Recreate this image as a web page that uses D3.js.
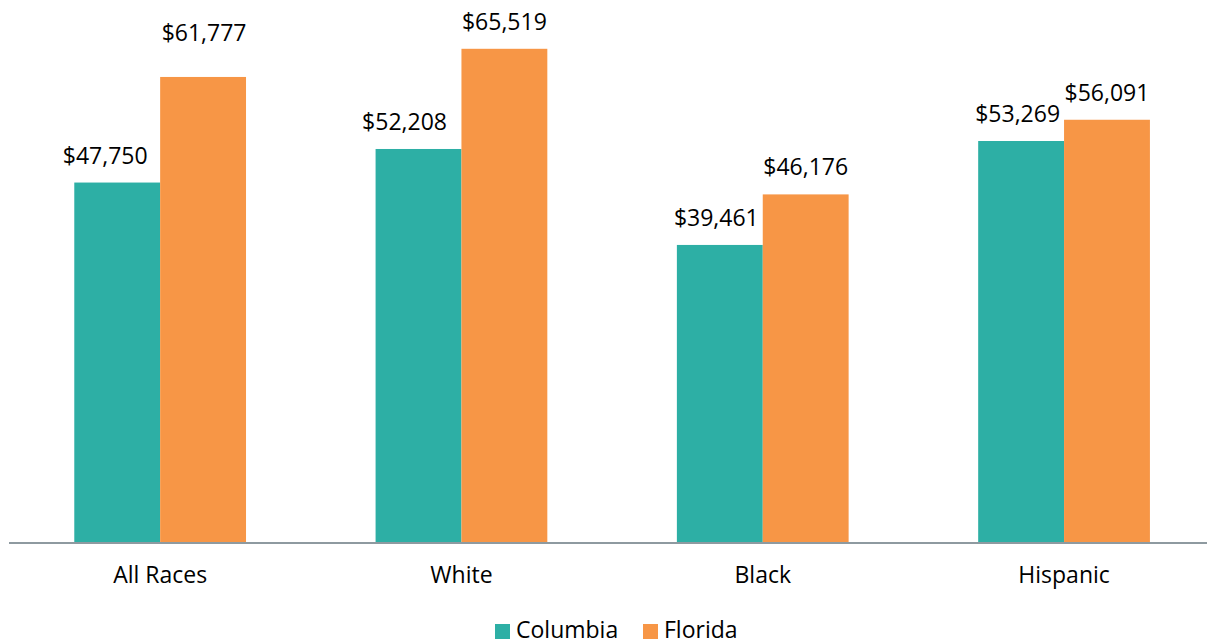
<!DOCTYPE html>
<html>
<head>
<meta charset="utf-8">
<script src="https://cdn.jsdelivr.net/npm/d3@7"></script>
<style>
  body { margin: 0; background: #fff; }
  text { font-family: "Open Sans", sans-serif; fill: #000; }
</style>
</head>
<body>
<svg id="chart" width="1207" height="644"></svg>
<script>
const categories = ["All Races", "White", "Black", "Hispanic"];
const seriesNames = ["Columbia", "Florida"];
const columbia = [47750, 52208, 39461, 53269];
const florida = [61777, 65519, 46176, 56091];

const colors = { Columbia: "#2DAFA5", Florida: "#F79646" };

const svg = d3.select("#chart");
const baseY = 542;

const x0 = d3.scaleBand()
    .domain(categories)
    .range([9.5, 1214.7])
    .paddingInner(0.43)
    .paddingOuter(0.215);

const x1 = d3.scaleBand()
    .domain(seriesNames)
    .range([0, x0.bandwidth()]);

const y = d3.scaleLinear()
    .domain([0, 72000])
    .range([baseY, 0]);

const rows = categories.map((c, i) => ({
    category: c,
    values: [
        { name: "Columbia", value: columbia[i] },
        { name: "Florida", value: florida[i] }
    ]
}));

// labels that were dragged by hand in the original
const labelNudge = {
    "All Races|Columbia": [-12, 0],
    "All Races|Florida": [1, 17],
    "White|Columbia": [-14, 0],
    "Black|Columbia": [-3.5, 0],
    "Hispanic|Columbia": [-3.5, 0]
};
const nudge = d => labelNudge[d.category + "|" + d.name] || [0, 0];

const groups = svg.append("g")
    .selectAll("g")
    .data(rows)
    .join("g")
    .attr("transform", d => `translate(${x0(d.category)},0)`);

groups.selectAll("rect")
    .data(d => d.values)
    .join("rect")
    .attr("x", d => x1(d.name))
    .attr("y", d => y(d.value))
    .attr("width", x1.bandwidth())
    .attr("height", d => baseY - y(d.value))
    .attr("fill", d => colors[d.name]);

groups.selectAll("text.val")
    .data(d => d.values.map(v => ({ ...v, category: d.category })))
    .join("text")
    .attr("class", "val")
    .attr("x", d => x1(d.name) + x1.bandwidth() / 2 + nudge(d)[0])
    .attr("y", d => y(d.value) - 19 - nudge(d)[1])
    .attr("text-anchor", "middle")
    .style("font-size", "23px")
    .text(d => "$" + d3.format(",")(d.value));

// axis line
svg.append("line")
    .attr("x1", 9).attr("x2", 1207)
    .attr("y1", baseY + 1).attr("y2", baseY + 1)
    .attr("stroke", "#8E9AA0")
    .attr("stroke-width", 2);

const xAxis = d3.axisBottom(x0).tickSize(0).tickPadding(0);
const axisG = svg.append("g")
    .attr("transform", `translate(0,${baseY})`)
    .call(xAxis);
axisG.select(".domain").remove();
axisG.selectAll("text")
    .attr("y", 41)
    .attr("dy", null)
    .style("font-size", "23px")
    .style("font-family", "'Open Sans', sans-serif")
    .attr("fill", "#000");

// legend
const legendItems = [
    { name: "Columbia", x: 495 },
    { name: "Florida", x: 643 }
];
const legend = svg.append("g")
    .selectAll("g")
    .data(legendItems)
    .join("g")
    .attr("transform", d => `translate(${d.x},624)`);
legend.append("rect")
    .attr("width", 15).attr("height", 15)
    .attr("fill", d => colors[d.name]);
legend.append("text")
    .attr("x", 21)
    .attr("y", 14)
    .style("font-size", "23px")
    .text(d => d.name);
</script>
</body>
</html>
